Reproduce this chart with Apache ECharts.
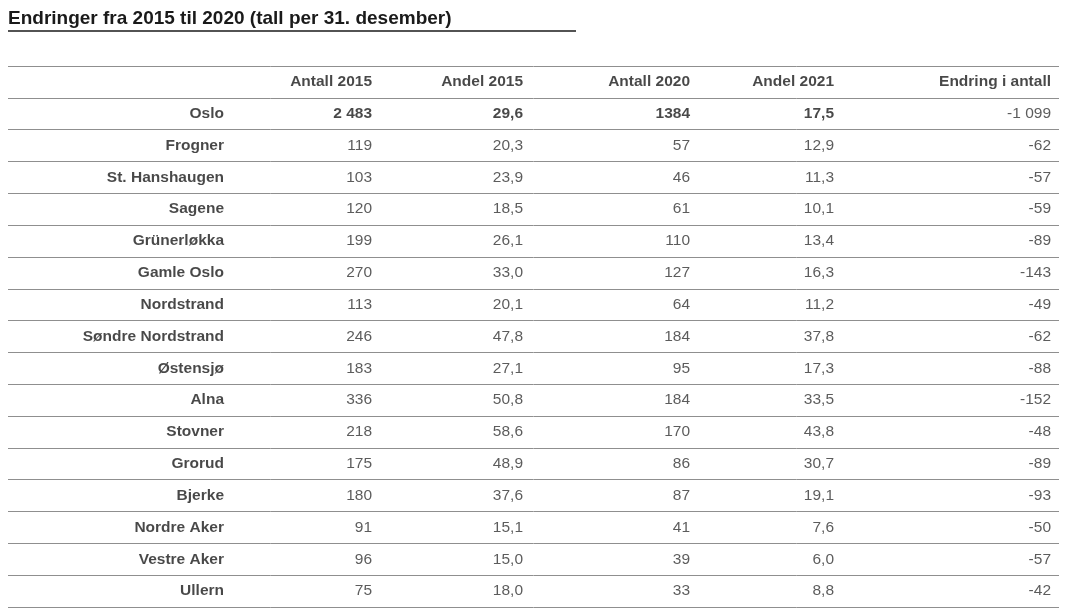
<!DOCTYPE html>
<html><head><meta charset="utf-8">
<script src="https://cdn.jsdelivr.net/npm/echarts@6/dist/echarts.min.js"></script>
<style>html,body{margin:0;padding:0;background:#fff}#c{width:1067px;height:609px}</style>
</head><body><div id="c"></div>
<script>
const headers = ['Antall 2015','Andel 2015','Antall 2020','Andel 2021','Endring i antall'];
const rows = ['Oslo','Frogner','St. Hanshaugen','Sagene','Grünerløkka','Gamle Oslo','Nordstrand','Søndre Nordstrand','Østensjø','Alna','Stovner','Grorud','Bjerke','Nordre Aker','Vestre Aker','Ullern'];
const antall2015 = ['2 483','119','103','120','199','270','113','246','183','336','218','175','180','91','96','75'];
const andel2015 = ['29,6','20,3','23,9','18,5','26,1','33,0','20,1','47,8','27,1','50,8','58,6','48,9','37,6','15,1','15,0','18,0'];
const antall2020 = ['1384','57','46','61','110','127','64','184','95','184','170','86','87','41','39','33'];
const andel2021 = ['17,5','12,9','11,3','10,1','13,4','16,3','11,2','37,8','17,3','33,5','43,8','30,7','19,1','7,6','6,0','8,8'];
const endring = ['-1 099','-62','-57','-59','-89','-143','-49','-62','-88','-152','-48','-89','-93','-50','-57','-42'];

const cats = ['__h'].concat(rows);
const colX = [224, 372, 523, 690, 834, 1051];
const cols = [rows, antall2015, andel2015, antall2020, andel2021, endring];
const font = 'Liberation Sans, Arial, sans-serif';
const series = cols.map((col, ci) => ({
  type: 'scatter', symbolSize: 0, silent: true,
  data: [{value: [colX[ci], '__h'], txt: ci === 0 ? '' : headers[ci-1], bold: true}]
    .concat(col.map((v, ri) => ({value: [colX[ci], rows[ri]], txt: v, bold: ci === 0 || (ri === 0 && ci < 5)}))),
  label: {
    show: true, position: 'inside', offset: [0, 0],
    formatter: p => p.data.bold ? '{b|' + p.data.txt + '}' : '{n|' + p.data.txt + '}',
    rich: {
      b: {fontFamily: font, fontSize: 15.5, fontWeight: 'bold', color: '#1a1a1a', align: 'right'},
      n: {fontFamily: font, fontSize: 15.5, color: '#333', align: 'right'}
    },
    align: 'right', verticalAlign: 'middle'
  }
}));
const chart = echarts.init(document.getElementById('c'), null, {renderer: 'canvas'});
chart.setOption({
  animation: false,
  title: {text: 'Endringer fra 2015 til 2020 (tall per 31. desember)', left: 8, top: 9, padding: 0,
    textStyle: {fontFamily: font, fontSize: 19, fontWeight: 'bold', color: '#1a1a1a'}},
  graphic: [{type: 'line', shape: {x1: 8, y1: 31, x2: 576, y2: 31}, style: {stroke: '#1a1a1a', lineWidth: 1.5}}],
  grid: {left: 8, right: 8, top: 66, bottom: 2},
  xAxis: {type: 'value', min: 8, max: 1059, show: false},
  yAxis: {type: 'category', data: cats, inverse: true, boundaryGap: true,
    axisLabel: {show: false}, axisTick: {show: false},
    axisLine: {show: false},
    splitLine: {show: true, lineStyle: {color: '#8f8f8f', width: 1}}},
  series: series
});
</script></body></html>
